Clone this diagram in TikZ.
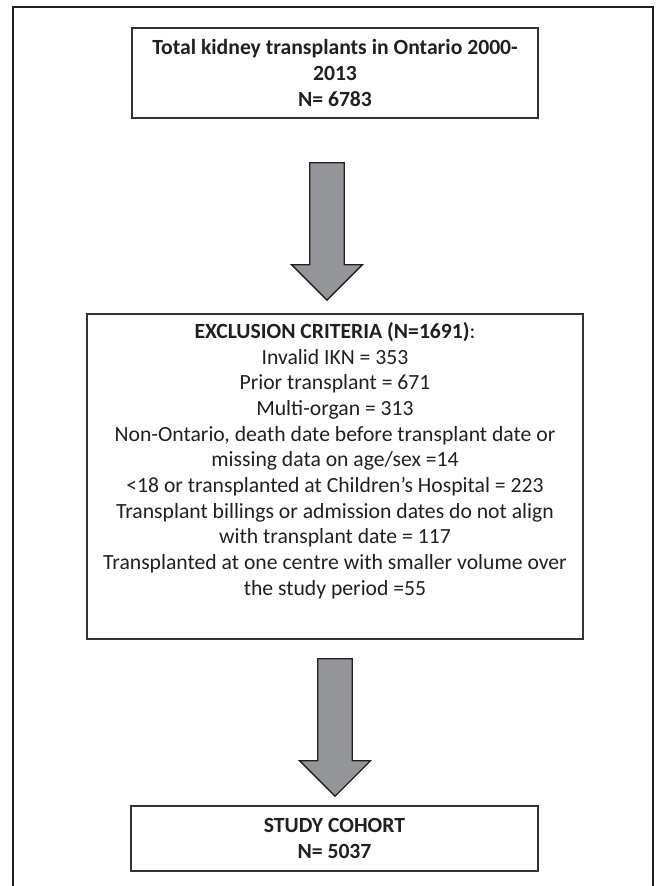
\documentclass[tikz,border=0pt]{standalone}
\usepackage{fontspec}
\setmainfont{Carlito}
\usetikzlibrary{shapes.arrows}
\usetikzlibrary{positioning}
\definecolor{inkcol}{RGB}{35,31,32}
\definecolor{arrowgray}{RGB}{147,149,152}

\begin{document}
\begin{tikzpicture}[x=0.6pt,y=-0.6pt,
  box/.style={rectangle, draw=black!80, line width=0.85pt, inner sep=0pt, align=center,
    text=inkcol, font=\fontsize{13pt}{15.6pt}\selectfont},
  listtext/.style={inner sep=0pt, align=center, text=inkcol, font=\fontsize{13pt}{15.4pt}\selectfont},
  blockarrow/.style={single arrow, draw=inkcol, fill=arrowgray, line width=0.75pt, rotate=-90,
    inner sep=10pt, single arrow head extend=10.8pt, minimum height=82.5pt, anchor=tail}]
\useasboundingbox (0,0) rectangle (657,886);

% outer frame
\draw[inkcol, line width=1.2pt] (12.7,900) -- (12.7,7.3) -- (653,7.3) -- (653,900);

% three boxes
\node (total) [box, minimum width=243.6pt, minimum height=54pt] at (335,73)
  {\bfseries Total kidney transplants in Ontario 2000-\\\bfseries 2013\\\bfseries N= 6783};
\node (excl) [box, minimum width=297.6pt, minimum height=195pt] at (335,476.5) {};
\node (excllist) [listtext, anchor=north] at (335,322) {
  \textbf{EXCLUSION CRITERIA (N=1691)}:\\
  Invalid IKN = 353\\
  Prior transplant = 671\\
  Multi-organ = 313\\
  Non-Ontario, death date before transplant date or\\
  missing data on age/sex =14\\
  <18 or transplanted at Children’s Hospital = 223\\
  Transplant billings or admission dates do not align\\
  with transplant date = 117\\
  Transplanted at one centre with smaller volume over\\
  the study period =55};
\node (cohort) [box, minimum width=244.2pt, minimum height=39pt] at (334.5,838.5)
  {\bfseries STUDY COHORT\\\bfseries N= 5037};

% block arrows
\node (arrA) [blockarrow] at (327,162) {};
\node (arrB) [blockarrow] at (335,658) {};
\end{tikzpicture}
\end{document}
